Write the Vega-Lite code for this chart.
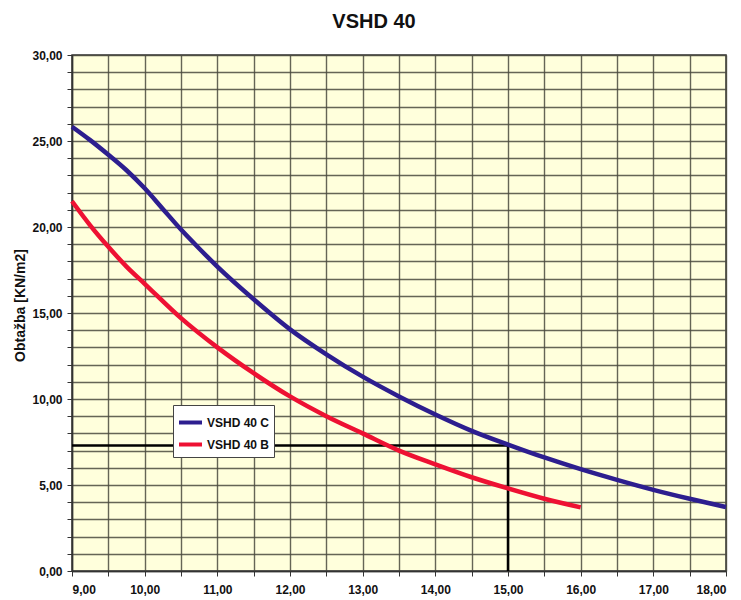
{
  "$schema": "https://vega.github.io/schema/vega-lite/v6.json",
  "width": 654,
  "height": 516,
  "autosize": {"type": "none"},
  "padding": {"left": 72, "top": 55, "right": 15, "bottom": 29},
  "background": "white",
  "title": {"text": "VSHD 40", "font": "Liberation Sans", "fontSize": 20, "fontWeight": "bold", "color": "#111111", "anchor": "middle", "frame": "bounds", "offset": 17},
  "config": {
    "view": {"fill": "#FFFFDC", "stroke": "#333333", "strokeWidth": 1.5},
    "axis": {
      "labelFont": "Liberation Sans", "labelFontSize": 12, "labelFontWeight": "bold", "labelColor": "#111111",
      "titleFont": "Liberation Sans", "titleFontSize": 14, "titleFontWeight": "bold", "titleColor": "#111111",
      "gridColor": "#4a4a3e", "gridWidth": 1.4, "gridOpacity": 0.85,
      "tickColor": "#333333", "tickSize": 5, "domainColor": "#333333", "domainWidth": 1.5
    }
  },
  "layer": [
    {
      "data": {"values": [
        {"x": 9, "y": 7.3, "o": 1},
        {"x": 15, "y": 7.3, "o": 2},
        {"x": 15, "y": 0, "o": 3}
      ]},
      "mark": {"type": "line", "color": "#000000", "strokeWidth": 2.5},
      "encoding": {
        "x": {"field": "x", "type": "quantitative"},
        "y": {"field": "y", "type": "quantitative"},
        "order": {"field": "o"}
      }
    },
    {
      "data": {"values": [
        {"series": "VSHD 40 C", "x": 9, "y": 25.83},
        {"series": "VSHD 40 C", "x": 9.25, "y": 25.05},
        {"series": "VSHD 40 C", "x": 9.5, "y": 24.2},
        {"series": "VSHD 40 C", "x": 9.75, "y": 23.3},
        {"series": "VSHD 40 C", "x": 10, "y": 22.25},
        {"series": "VSHD 40 C", "x": 10.25, "y": 21.05},
        {"series": "VSHD 40 C", "x": 10.5, "y": 19.85},
        {"series": "VSHD 40 C", "x": 10.75, "y": 18.75},
        {"series": "VSHD 40 C", "x": 11, "y": 17.7},
        {"series": "VSHD 40 C", "x": 11.5, "y": 15.8},
        {"series": "VSHD 40 C", "x": 12, "y": 14.05},
        {"series": "VSHD 40 C", "x": 12.5, "y": 12.6},
        {"series": "VSHD 40 C", "x": 13, "y": 11.3},
        {"series": "VSHD 40 C", "x": 13.5, "y": 10.15},
        {"series": "VSHD 40 C", "x": 14, "y": 9.1},
        {"series": "VSHD 40 C", "x": 14.5, "y": 8.15},
        {"series": "VSHD 40 C", "x": 15, "y": 7.35},
        {"series": "VSHD 40 C", "x": 15.5, "y": 6.6},
        {"series": "VSHD 40 C", "x": 16, "y": 5.92},
        {"series": "VSHD 40 C", "x": 16.5, "y": 5.3},
        {"series": "VSHD 40 C", "x": 17, "y": 4.72},
        {"series": "VSHD 40 C", "x": 17.5, "y": 4.2},
        {"series": "VSHD 40 C", "x": 18, "y": 3.72},
        {"series": "VSHD 40 B", "x": 9, "y": 21.5},
        {"series": "VSHD 40 B", "x": 9.25, "y": 20.1},
        {"series": "VSHD 40 B", "x": 9.5, "y": 18.85},
        {"series": "VSHD 40 B", "x": 9.75, "y": 17.7},
        {"series": "VSHD 40 B", "x": 10, "y": 16.7},
        {"series": "VSHD 40 B", "x": 10.5, "y": 14.7},
        {"series": "VSHD 40 B", "x": 11, "y": 13.0},
        {"series": "VSHD 40 B", "x": 11.5, "y": 11.5},
        {"series": "VSHD 40 B", "x": 12, "y": 10.15},
        {"series": "VSHD 40 B", "x": 12.5, "y": 9.0},
        {"series": "VSHD 40 B", "x": 13, "y": 8.0},
        {"series": "VSHD 40 B", "x": 13.5, "y": 7.0},
        {"series": "VSHD 40 B", "x": 14, "y": 6.2},
        {"series": "VSHD 40 B", "x": 14.5, "y": 5.45},
        {"series": "VSHD 40 B", "x": 15, "y": 4.8},
        {"series": "VSHD 40 B", "x": 15.5, "y": 4.2},
        {"series": "VSHD 40 B", "x": 16, "y": 3.7}
      ]},
      "mark": {"type": "line", "strokeWidth": 4.5, "interpolate": "monotone"},
      "encoding": {
        "x": {
          "field": "x", "type": "quantitative",
          "scale": {"domain": [9, 18], "nice": false, "zero": false},
          "axis": {
            "title": null,
            "tickCount": 100,
            "values": [9, 9.5, 10, 10.5, 11, 11.5, 12, 12.5, 13, 13.5, 14, 14.5, 15, 15.5, 16, 16.5, 17, 17.5, 18],
            "labelExpr": "datum.value % 1 == 0 ? replace(format(datum.value, '.2f'), '.', ',') : ''",
            "labelPadding": 8,
            "labelOverlap": false
          }
        },
        "y": {
          "field": "y", "type": "quantitative",
          "scale": {"domain": [0, 30], "nice": false},
          "axis": {
            "title": "Obtažba [KN/m2]",
            "tickCount": 100,
            "values": [0,1,2,3,4,5,6,7,8,9,10,11,12,13,14,15,16,17,18,19,20,21,22,23,24,25,26,27,28,29,30],
            "labelExpr": "datum.value % 5 == 0 ? replace(format(datum.value, '.2f'), '.', ',') : ''",
            "labelPadding": 5,
            "labelOverlap": false,
            "titleX": -52,
            "titleY": 250,
            "titleAngle": -90,
            "titleBaseline": "middle",
            "titleAlign": "center"
          }
        },
        "color": {
          "field": "series", "type": "nominal",
          "scale": {"domain": ["VSHD 40 C", "VSHD 40 B"], "range": ["#2D1E8F", "#EE1133"]},
          "legend": {
            "title": null,
            "orient": "none",
            "legendX": 101,
            "legendY": 350,
            "fillColor": "#FFFFFF",
            "strokeColor": "#444444",
            "padding": 4,
            "symbolType": "stroke",
            "symbolSize": 529,
            "symbolStrokeWidth": 4,
            "rowPadding": 0,
            "labelOffset": 3,
            "labelFont": "Liberation Sans",
            "labelFontSize": 12,
            "labelFontWeight": "bold",
            "labelColor": "#111111"
          }
        }
      }
    }
  ]
}
